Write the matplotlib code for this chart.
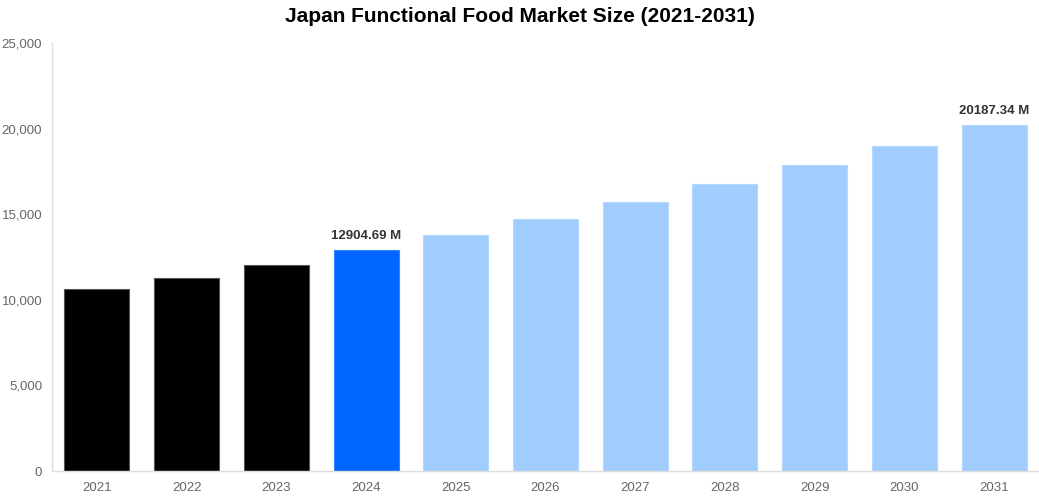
import matplotlib
matplotlib.use("Agg")
import matplotlib.pyplot as plt
from matplotlib.ticker import FuncFormatter

plt.rcParams['font.family'] = ['Liberation Sans', 'DejaVu Sans']

years = ["2021", "2022", "2023", "2024", "2025", "2026", "2027", "2028", "2029", "2030", "2031"]
values = [10630, 11280, 12030, 12904.69, 13780, 14720, 15710, 16760, 17870, 18980, 20187.34]
colors = ["#000000"] * 3 + ["#0066FF"] + ["#A1CDFE"] * 7
edges = ["#555555"] * 3 + ["#3385FF"] + ["#B5D8FF"] * 7
labeled = {"2024": "12904.69 M", "2031": "20187.34 M"}

fig = plt.figure(figsize=(10.39, 5.0), dpi=100)
ax = fig.add_axes([52/1039, 29/500, 987/1039, 428/500])
x = list(range(len(years)))
ax.bar(x, values, width=0.725, color=colors, edgecolor=edges, linewidth=0.8)
for i, (y, v) in enumerate(zip(years, values)):
    if y in labeled:
        ax.annotate(labeled[y], (i, v), xytext=(0, 6), textcoords="offset points",
                    ha="center", va="bottom", fontsize=9.5, fontweight="bold", color="#333333")

ax.set_xlim(-0.5, len(years) - 0.5)
ax.set_ylim(0, 25000)
ax.set_yticks([0, 5000, 10000, 15000, 20000, 25000])
ax.yaxis.set_major_formatter(FuncFormatter(lambda v, p: f"{int(v):,}"))
ax.set_xticks(x)
ax.set_xticklabels(years)
ax.tick_params(axis="both", length=0, labelsize=9.5, labelcolor="#666666")
ax.tick_params(axis="x", pad=8)
ax.tick_params(axis="y", pad=7)
for s in ["top", "right"]:
    ax.spines[s].set_visible(False)
for s in ["left", "bottom"]:
    ax.spines[s].set_color("#dddddd")
    ax.spines[s].set_linewidth(1)

fig.suptitle("Japan Functional Food Market Size (2021-2031)", x=0.5, y=0.985,
             fontsize=15, fontweight="bold", color="#000000")
fig.savefig("out.png", dpi=100)
